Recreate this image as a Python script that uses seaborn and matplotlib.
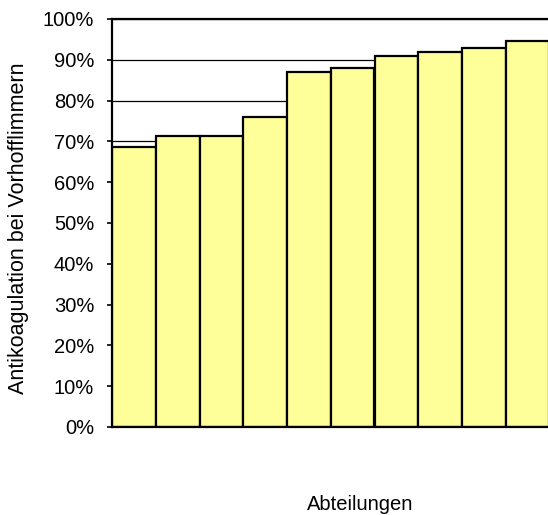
import matplotlib
matplotlib.use("Agg")
import matplotlib.pyplot as plt
from matplotlib.ticker import PercentFormatter
import seaborn as sns
import pandas as pd

# Share of atrial-fibrillation patients on anticoagulation, per department (sorted)
departments = ["A", "B", "C", "D", "E", "F", "G", "H", "I", "J"]
rates = [68.7, 71.3, 71.4, 76.0, 87.0, 87.9, 90.9, 91.8, 92.8, 94.6]
y_ticks = [0, 10, 20, 30, 40, 50, 60, 70, 80, 90, 100]

df = pd.DataFrame({"Abteilung": departments, "Rate": rates})

sns.set_theme(style="white")
plt.rcParams["font.family"] = ["Liberation Sans", "DejaVu Sans"]

fig = plt.figure(figsize=(5.48, 5.15), dpi=100)
ax = fig.add_axes([112.3 / 548, 88 / 515, 437 / 548, 408 / 515])

sns.barplot(data=df, x="Abteilung", y="Rate", color="#FFFF99", saturation=1,
            width=1.0, edgecolor="black", linewidth=1.6, ax=ax, zorder=2)

ax.set_xlim(-0.5, len(departments) - 0.5)
ax.set_ylim(0, 100)
ax.set_yticks(y_ticks)
ax.yaxis.set_major_formatter(PercentFormatter(decimals=0))
ax.grid(axis="y", color="black", linewidth=0.9, zorder=0)
ax.set_axisbelow(True)

ax.set_xticks([])
ax.tick_params(axis="y", left=True, length=3.6, width=1.2, color="black",
               labelsize=14.5, pad=9.5, labelcolor="black")

for side in ("left", "bottom", "top"):
    ax.spines[side].set_visible(True)
    ax.spines[side].set_color("black")
    ax.spines[side].set_linewidth(1.6)
ax.spines["right"].set_visible(False)

ax.set_ylabel("Antikoagulation bei Vorhofflimmern", fontsize=15.5, color="black",
              va="center")
ax.yaxis.set_label_coords(-0.2146, 0.488)
ax.set_xlabel("Abteilungen", fontsize=14.5, color="black", va="baseline")
ax.xaxis.set_label_coords(0.568, -0.2034)

fig.savefig("out.png", dpi=100)
